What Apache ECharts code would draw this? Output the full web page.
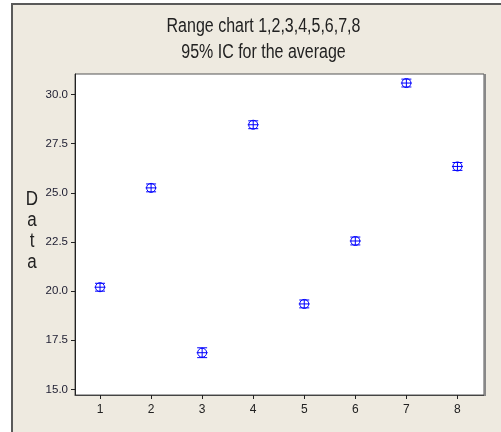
<!DOCTYPE html>
<html>
<head>
<meta charset="utf-8">
<script src="https://cdn.jsdelivr.net/npm/echarts@6/dist/echarts.min.js"></script>
<style>
html,body{margin:0;padding:0;background:#fff;}
#c{width:501px;height:432px;}
</style>
</head>
<body>
<div id="c"></div>
<script>
// ---- data ----
var samples = [1, 2, 3, 4, 5, 6, 7, 8];
var means = [20.20, 25.25, 16.87, 28.46, 19.35, 22.55, 30.58, 26.34];
var lowerCI = [20.00, 25.05, 16.62, 28.26, 19.15, 22.35, 30.38, 26.14];
var upperCI = [20.40, 25.45, 17.12, 28.66, 19.55, 22.75, 30.78, 26.54];
var yTicks = [15.0, 17.5, 20.0, 22.5, 25.0, 27.5, 30.0];
var xTicks = [1, 2, 3, 4, 5, 6, 7, 8];
var titleLines = ['Range chart 1,2,3,4,5,6,7,8', '95% IC for the average'];
var yName = 'D\na\nt\na';

var rows = samples.map(function (s, i) { return [s, means[i], lowerCI[i], upperCI[i]]; });
var FONT = '"Liberation Sans", Arial, sans-serif';
var BLUE = '#0000ff';

var chart = echarts.init(document.getElementById('c'), null, {renderer: 'canvas'});
chart.setOption({
  animation: false,
  backgroundColor: '#ffffff',
  graphic: [
    {type: 'rect', z: -100, silent: true,
     shape: {x: 12, y: 4, width: 520, height: 460},
     style: {fill: '#eeeae0', stroke: '#5a5a5a', lineWidth: 2}},
    {type: 'text', z: 100, silent: true, x: 263.5, y: 13, scaleX: 0.8,
     style: {text: titleLines.join('\n'), font: '20px ' + FONT, fill: '#222', textAlign: 'center',
             textVerticalAlign: 'top', lineHeight: 26}},
    {type: 'text', z: 100, silent: true, x: 32, y: 231, scaleX: 0.85,
     style: {text: yName, font: '20px ' + FONT, fill: '#222', textAlign: 'center',
             textVerticalAlign: 'middle', lineHeight: 21}},
    {type: 'line', z: 100, silent: true,
     shape: {x1: 485, y1: 74, x2: 485, y2: 396},
     style: {stroke: '#888', lineWidth: 2}}
  ],
  grid: {
    left: 75, right: 17, top: 74, bottom: 37,
    show: true, backgroundColor: '#ffffff', borderColor: '#555', borderWidth: 1
  },
  xAxis: {
    type: 'value', min: 0.51, max: 8.52,
    splitLine: {show: false},
    axisLine: {show: true, onZero: false, lineStyle: {color: '#444', width: 1}},
    axisTick: {show: true, length: 4, customValues: xTicks, lineStyle: {color: '#222'}},
    axisLabel: {customValues: xTicks, margin: 9, fontFamily: FONT, fontSize: 12, color: '#222',
                formatter: function (v) { return String(v); }}
  },
  yAxis: {
    type: 'value', min: 14.72, max: 31.04,
    splitLine: {show: false},
    axisLine: {show: true, onZero: false, lineStyle: {color: '#222', width: 1}},
    axisTick: {show: true, length: 4, customValues: yTicks, lineStyle: {color: '#222'}},
    axisLabel: {customValues: yTicks, margin: 7, fontFamily: FONT, fontSize: 11.5, color: '#1c1c30',
                formatter: function (v) { return v.toFixed(1); }}
  },
  series: [{
    type: 'custom',
    data: rows,
    encode: {x: 0, y: 1},
    renderItem: function (params, api) {
      var c = api.coord([api.value(0), api.value(1)]);
      var lo = api.coord([api.value(0), api.value(2)]);
      var hi = api.coord([api.value(0), api.value(3)]);
      var st = {stroke: BLUE, lineWidth: 1, fill: null};
      var r = 4.5, cap = 5;
      return {
        type: 'group',
        children: [
          {type: 'circle', shape: {cx: c[0], cy: c[1], r: r}, style: st},
          {type: 'line', shape: {x1: c[0], y1: lo[1], x2: c[0], y2: hi[1]}, style: st},
          {type: 'line', shape: {x1: c[0] - cap, y1: lo[1], x2: c[0] + cap, y2: lo[1]}, style: st},
          {type: 'line', shape: {x1: c[0] - cap, y1: hi[1], x2: c[0] + cap, y2: hi[1]}, style: st},
          {type: 'line', shape: {x1: c[0] - r - 1, y1: c[1], x2: c[0] + r + 1, y2: c[1]}, style: st}
        ]
      };
    }
  }]
});
</script>
</body>
</html>
